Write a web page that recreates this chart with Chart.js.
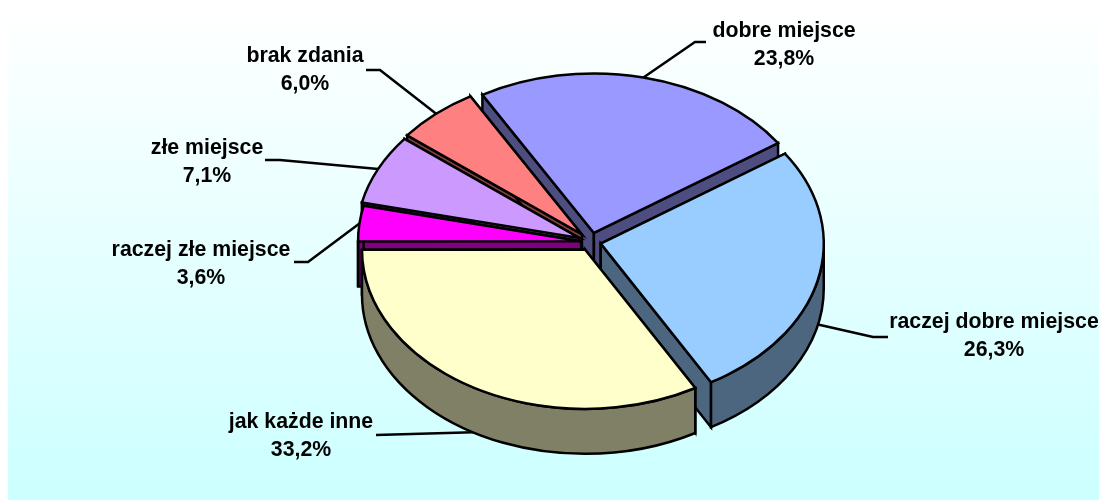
<!DOCTYPE html>
<html><head><meta charset="utf-8">
<style>html,body{margin:0;padding:0;background:#fff}#w{width:1099px;height:500px}</style>
<script src="https://cdn.jsdelivr.net/npm/chart.js@4"></script></head>
<body><div id="w"><canvas id="c" width="1099" height="500"></canvas></div>
<script>
const categories = ['dobre miejsce','raczej dobre miejsce','jak każde inne','raczej złe miejsce','złe miejsce','brak zdania'];
const shares = [23.8,26.3,33.2,3.6,7.1,6.0];
const shareLabels = ['23,8%','26,3%','33,2%','3,6%','7,1%','6,0%'];
const topColors = ['#9999ff','#99ccff','#ffffcc','#ff00ff','#cc99ff','#ff8080'];
const wallColors = ['#4d4d80','#4d6680','#808066','#800080','#664d80','#804040'];
const sliceOffsets = [13,10,12,10,13,14];
const paintOrder = [0,5,4,3,1,2];
const labelCentres = [[784,31],[994,322],[301,422],[201,250],[207,148],[305,56]];
const labelElbows = [[[695,42],[706,42]],[[873,337],[888,337]],[[376,435]],[[308,262],[294,262]],[[280,160],[265,160]],[[380,70],[366,70]]];
const squash = 0.715, depth = 45;

const pie3d = {
  id:'pie3d',
  beforeDraw(chart){
    const {ctx} = chart;
    const g = ctx.createLinearGradient(0,12,0,500);
    g.addColorStop(0,'#ffffff'); g.addColorStop(1,'#ccffff');
    ctx.save(); ctx.fillStyle = g; ctx.fillRect(8,12,1091,488); ctx.restore();
  },
  beforeDatasetDraw(chart,args){
    const {ctx} = chart, arcs = chart.getDatasetMeta(args.index).data;
    const geo = arcs.map(a=>{
      const mid=(a.startAngle+a.endAngle)/2, off=a.options.offset;
      return {cx:a.x+Math.cos(mid)*off, cy:a.y+Math.sin(mid)*off*squash, r:a.outerRadius, a0:a.startAngle, a1:a.endAngle, mid};
    });
    ctx.save();
    ctx.strokeStyle='#000'; ctx.lineJoin='miter';
    const pt=(g,t)=>[g.cx+Math.cos(t)*g.r, g.cy+Math.sin(t)*g.r*squash];
    ctx.lineWidth=2.5;
    geo.forEach((g,i)=>{
      const p=pt(g,g.mid), s=Math.sin(g.mid)>0?depth:0;
      ctx.beginPath(); ctx.moveTo(p[0],p[1]+s);
      labelElbows[i].forEach(e=>ctx.lineTo(e[0],e[1]));
      ctx.stroke();
    });
    const paint=(fill)=>{ctx.fillStyle=fill;ctx.fill();ctx.stroke();};
    paintOrder.forEach(i=>{
      const g=geo[i];
      [g.a0,g.a1].forEach(t=>{
        const p=pt(g,t);
        ctx.beginPath(); ctx.moveTo(g.cx,g.cy); ctx.lineTo(p[0],p[1]);
        ctx.lineTo(p[0],p[1]+depth); ctx.lineTo(g.cx,g.cy+depth); ctx.closePath();
        paint(wallColors[i]);
      });
      const tw=Math.PI*2; let a0=g.a0,a1=g.a1;
      for(const k of [-1,0,1]){
        const s=Math.max(a0,k*tw), e=Math.min(a1,k*tw+Math.PI);
        if(e>s){
          ctx.beginPath();
          ctx.ellipse(g.cx,g.cy,g.r,g.r*squash,0,s,e);
          ctx.ellipse(g.cx,g.cy+depth,g.r,g.r*squash,0,e,s,true);
          ctx.closePath(); paint(wallColors[i]);
        }
      }
      ctx.beginPath(); ctx.moveTo(g.cx,g.cy);
      ctx.ellipse(g.cx,g.cy,g.r,g.r*squash,0,g.a0,g.a1);
      ctx.closePath(); paint(topColors[i]);
    });
    ctx.fillStyle='#000'; ctx.textAlign='center'; ctx.textBaseline='middle';
    ctx.font='bold 21.3px "Liberation Sans", Arial, sans-serif';
    categories.forEach((c,i)=>{
      const [x,y]=labelCentres[i];
      ctx.fillText(c,x,y);
      ctx.fillText(shareLabels[i],x,y+28);
    });
    ctx.restore();
    return false;
  }
};
new Chart(document.getElementById('c'),{
  type:'pie',
  data:{labels:categories,datasets:[{data:shares,backgroundColor:topColors,borderColor:'#000',borderWidth:2,offset:sliceOffsets}]},
  options:{responsive:false,animation:false,rotation:-30,radius:223,
    layout:{padding:{left:83,bottom:16}},
    plugins:{legend:{display:false},tooltip:{enabled:false}}},
  plugins:[pie3d]
});
</script></body></html>
